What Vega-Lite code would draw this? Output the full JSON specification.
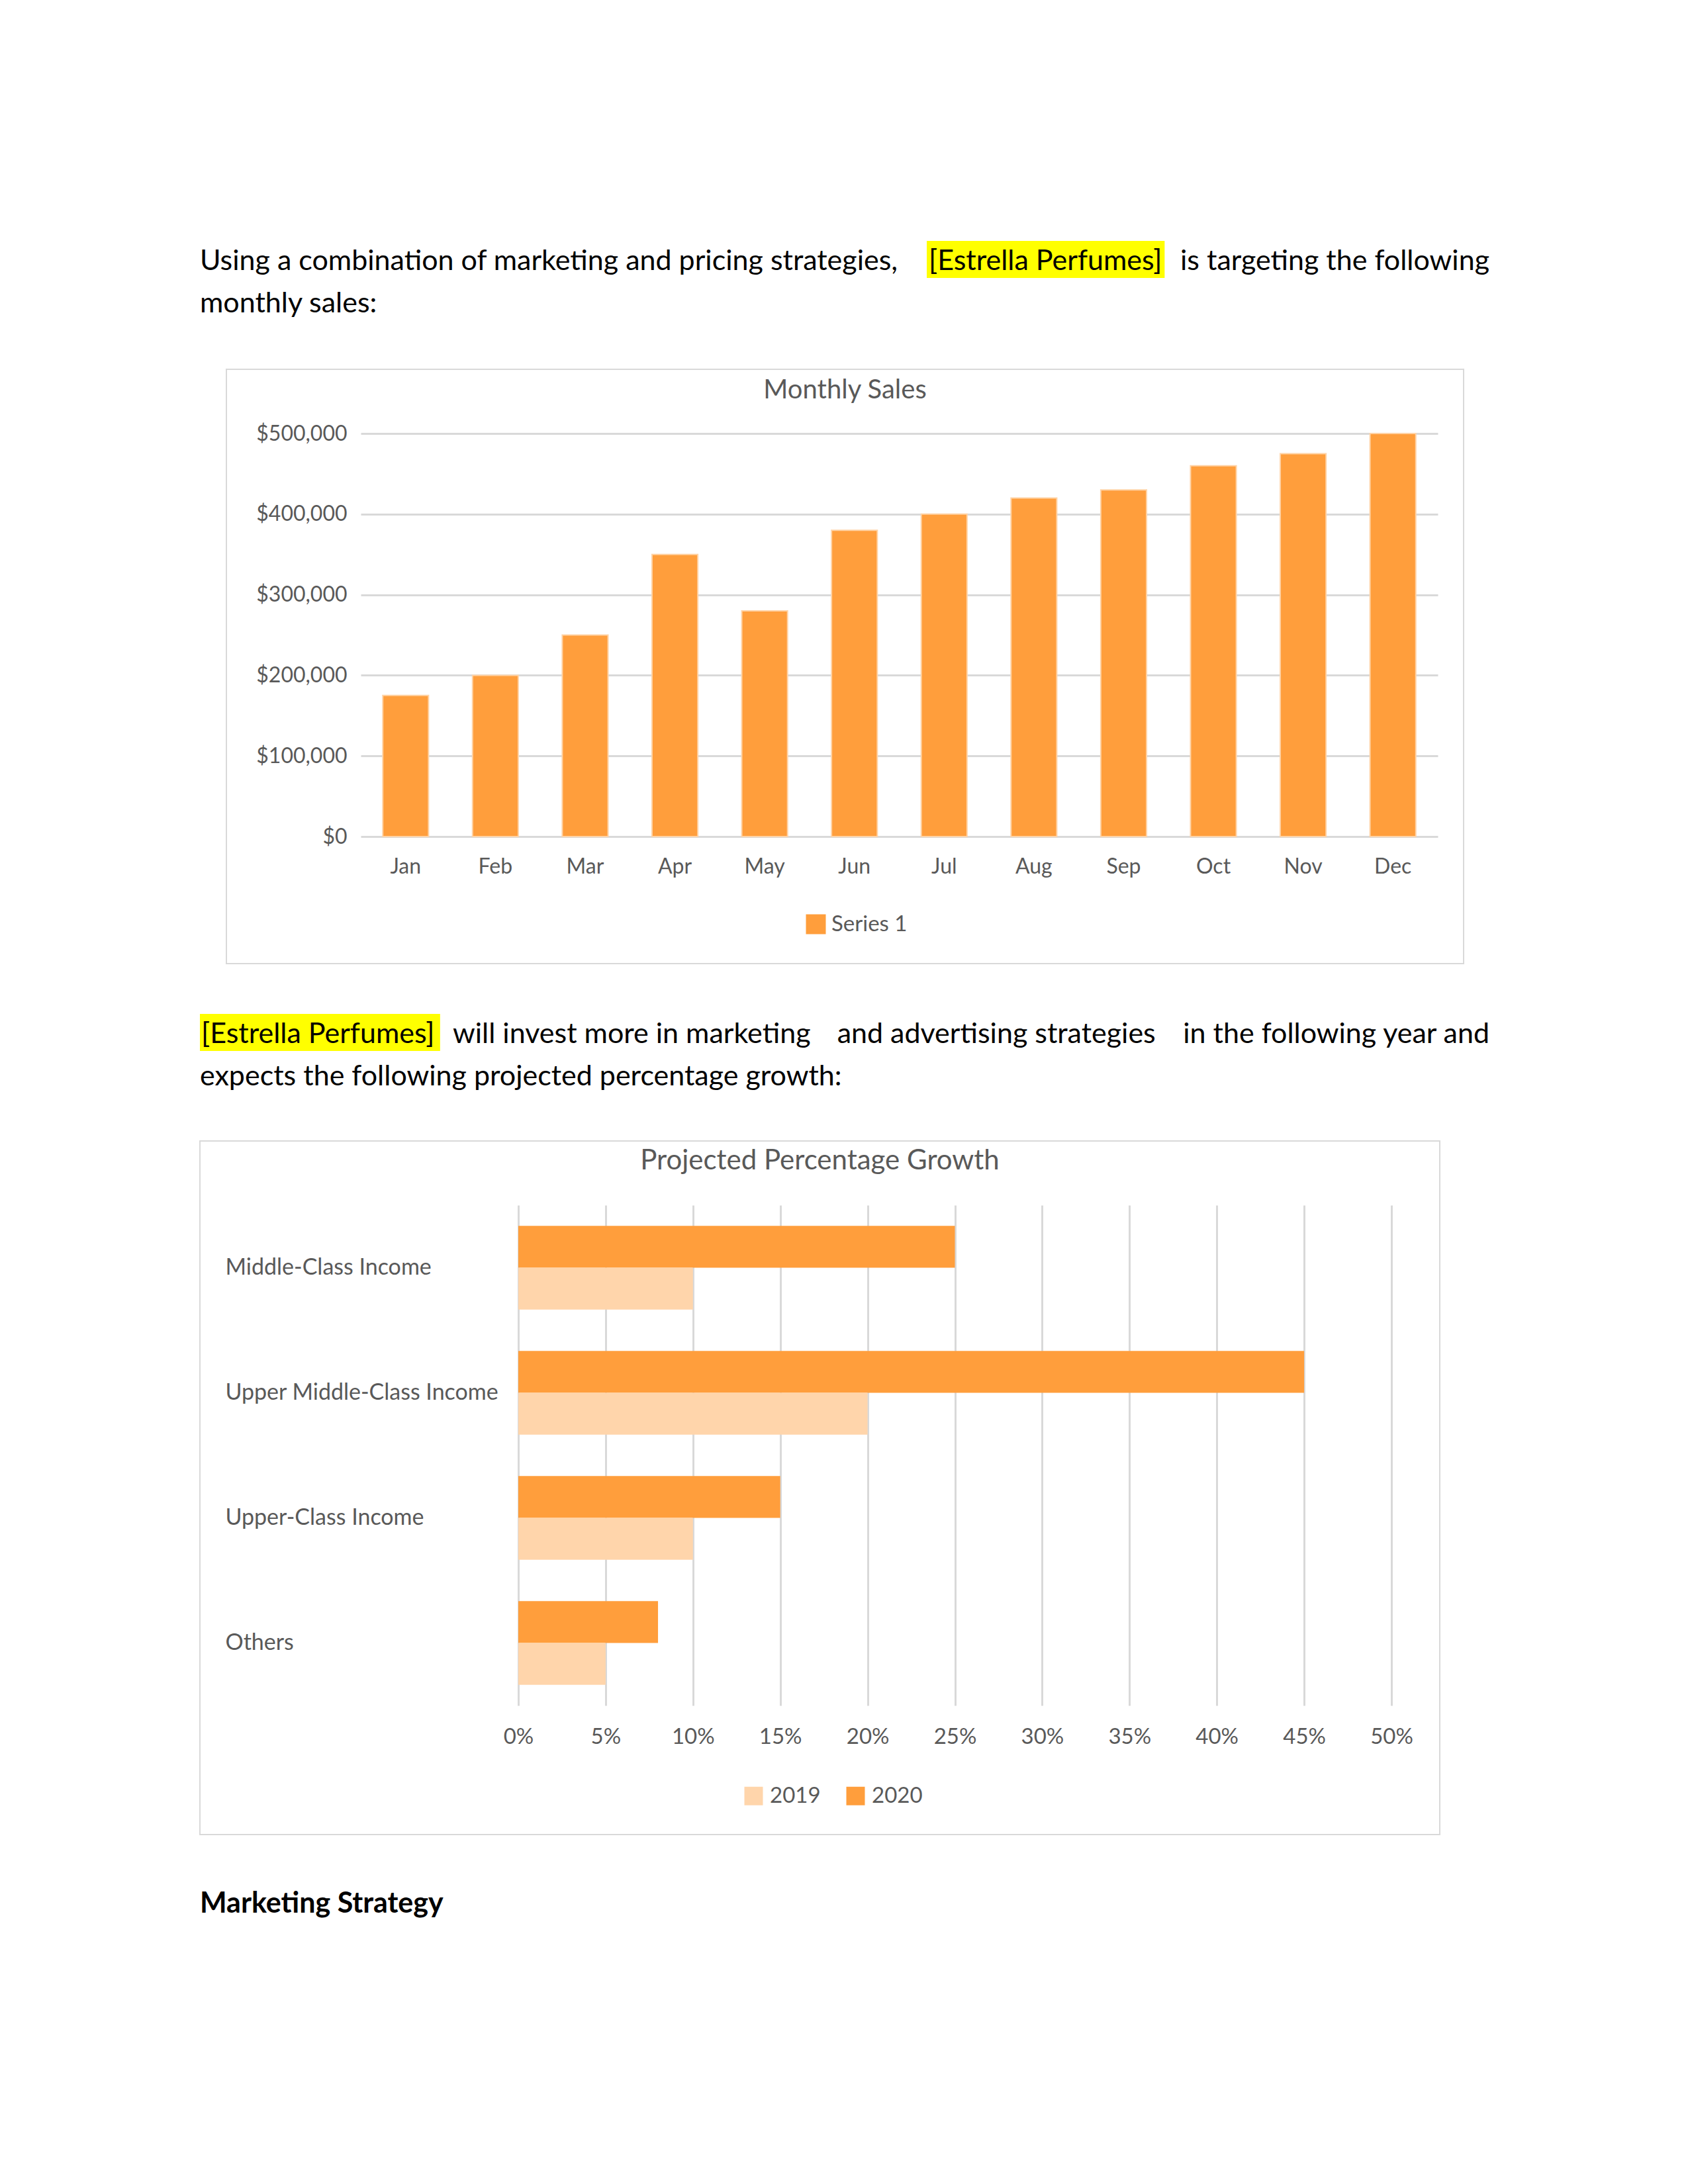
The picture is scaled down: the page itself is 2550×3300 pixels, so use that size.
{
  "$schema": "https://vega.github.io/schema/vega-lite/v6.json",
  "background": "white",
  "padding": {"left": 301, "top": 300, "right": 0, "bottom": 0},
  "spacing": 0,
  "config": {
    "view": {"stroke": null},
    "font": "Lato",
    "axis": {"labelFont": "Lato", "labelColor": "#595959", "domain": false, "ticks": false, "tickSize": 0, "labelLimit": 0, "labelFlush": false, "labelOverlap": false},
    "legend": {"labelFont": "Lato", "labelColor": "#595959", "padding": 0, "symbolStrokeWidth": 0},
    "title": {"font": "Lato", "fontWeight": "normal", "color": "#595959"}
  },
  "resolve": {"scale": {"x": "independent", "y": "independent", "color": "independent", "yOffset": "independent"}},
  "vconcat": [
    {
      "width": 1948,
      "height": 257,
      "data": {"values": [
        {"line": 1, "role": "left", "text": "Using a combination of marketing and pricing strategies,", "at": 0},
        {"line": 1, "role": "highlight", "text": "[Estrella Perfumes]", "from": 57, "to": 76},
        {"line": 1, "role": "right", "text": "is targeting the following", "at": 103},
        {"line": 2, "role": "left", "text": "monthly sales:", "at": 0}
      ]},
      "encoding": {"y": {"field": "line", "type": "ordinal", "scale": {"range": [76, 204], "paddingInner": 0.125, "paddingOuter": 0.0625}, "axis": null}},
      "layer": [
        {"transform": [{"filter": "datum.role === 'highlight'"}],
         "mark": {"type": "rect", "color": "#FFFF00", "xOffset": 20, "x2Offset": 20, "yOffset": -16, "y2Offset": -16},
         "encoding": {"x": {"field": "from", "type": "quantitative", "scale": {"domain": [0, 103], "nice": false, "zero": false}, "axis": null}, "x2": {"field": "to"}}},
        {"transform": [{"filter": "datum.role === 'highlight'"}],
         "mark": {"type": "text", "align": "left", "baseline": "alphabetic", "fontSize": 43, "font": "Lato", "color": "#000000", "dx": 23},
         "encoding": {"x": {"field": "from", "type": "quantitative", "axis": null}, "text": {"field": "text"}}},
        {"transform": [{"filter": "datum.role === 'left'"}],
         "mark": {"type": "text", "align": "left", "baseline": "alphabetic", "fontSize": 43, "font": "Lato", "color": "#000000"},
         "encoding": {"x": {"field": "at", "type": "quantitative", "axis": null}, "text": {"field": "text"}}},
        {"transform": [{"filter": "datum.role === 'right'"}],
         "mark": {"type": "text", "align": "right", "baseline": "alphabetic", "fontSize": 43, "font": "Lato", "color": "#000000"},
         "encoding": {"x": {"field": "at", "type": "quantitative", "axis": null}, "text": {"field": "text"}}}
      ]
    },
    {
      "spacing": 38,
      "resolve": {"scale": {"x": "independent", "y": "independent", "color": "independent"}},
      "hconcat": [
        {
          "width": 1,
          "height": 1,
          "data": {"values": []},
          "mark": {"type": "text", "text": ""},
          "encoding": {}
        },
        {
          "width": 1869,
          "height": 898,
          "view": {"stroke": "#D9D9D9", "strokeWidth": 2},
          "title": {"text": "Monthly Sales", "fontSize": 40, "anchor": "middle", "offset": -52},
          "data": {"values": [
            {"month": "Jan", "sales": 175000, "series": "Series 1"},
            {"month": "Feb", "sales": 200000, "series": "Series 1"},
            {"month": "Mar", "sales": 250000, "series": "Series 1"},
            {"month": "Apr", "sales": 350000, "series": "Series 1"},
            {"month": "May", "sales": 280000, "series": "Series 1"},
            {"month": "Jun", "sales": 380000, "series": "Series 1"},
            {"month": "Jul", "sales": 400000, "series": "Series 1"},
            {"month": "Aug", "sales": 420000, "series": "Series 1"},
            {"month": "Sep", "sales": 430000, "series": "Series 1"},
            {"month": "Oct", "sales": 460000, "series": "Series 1"},
            {"month": "Nov", "sales": 475000, "series": "Series 1"},
            {"month": "Dec", "sales": 500000, "series": "Series 1"}
          ]},
          "mark": {"type": "bar", "stroke": "#FFD3A6", "strokeWidth": 2},
          "encoding": {
            "x": {"field": "month", "type": "ordinal", "sort": null,
                  "scale": {"range": [203, 1830], "paddingInner": 0.49, "paddingOuter": 0.245},
                  "axis": {"orient": "bottom", "offset": -192, "labelPadding": 30, "labelAngle": 0, "labelFontSize": 32, "title": null}},
            "y": {"field": "sales", "type": "quantitative",
                  "scale": {"domain": [0, 500000], "range": [706, 97], "nice": false},
                  "axis": {"orient": "left", "offset": -182, "labelPadding": 0, "values": [0, 100000, 200000, 300000, 400000, 500000], "format": "$,.0f", "labelFontSize": 32, "grid": true, "gridColor": "#D9D9D9", "gridWidth": 3, "title": null}},
            "color": {"field": "series", "type": "nominal", "scale": {"range": ["#FF9E3C"]},
                      "legend": {"orient": "none", "legendX": 874, "legendY": 822, "title": null, "symbolType": "square", "symbolSize": 900, "labelFontSize": 33, "labelOffset": 7}}
          }
        }
      ]
    },
    {
      "width": 1948,
      "height": 266,
      "data": {"values": [
        {"line": 1, "role": "highlight", "text": "[Estrella Perfumes]", "from": 0, "to": 19},
        {"line": 1, "role": "left", "text": "will invest more in marketing", "at": 20},
        {"line": 1, "role": "center", "text": "and advertising strategies", "at": 63},
        {"line": 1, "role": "right", "text": "in the following year and", "at": 102},
        {"line": 2, "role": "left", "text": "expects the following projected percentage growth:", "at": 0}
      ]},
      "encoding": {"y": {"field": "line", "type": "ordinal", "scale": {"range": [87, 215], "paddingInner": 0.125, "paddingOuter": 0.0625}, "axis": null}},
      "layer": [
        {"transform": [{"filter": "datum.role === 'highlight'"}],
         "mark": {"type": "rect", "color": "#FFFF00", "yOffset": -16, "y2Offset": -16},
         "encoding": {"x": {"field": "from", "type": "quantitative", "scale": {"domain": [0, 102], "nice": false, "zero": false}, "axis": null}, "x2": {"field": "to"}}},
        {"transform": [{"filter": "datum.role === 'highlight'"}],
         "mark": {"type": "text", "align": "left", "baseline": "alphabetic", "fontSize": 43, "font": "Lato", "color": "#000000", "dx": 2},
         "encoding": {"x": {"field": "from", "type": "quantitative", "axis": null}, "text": {"field": "text"}}},
        {"transform": [{"filter": "datum.role === 'left'"}],
         "mark": {"type": "text", "align": "left", "baseline": "alphabetic", "fontSize": 43, "font": "Lato", "color": "#000000"},
         "encoding": {"x": {"field": "at", "type": "quantitative", "axis": null}, "text": {"field": "text"}}},
        {"transform": [{"filter": "datum.role === 'center'"}],
         "mark": {"type": "text", "align": "center", "baseline": "alphabetic", "fontSize": 43, "font": "Lato", "color": "#000000"},
         "encoding": {"x": {"field": "at", "type": "quantitative", "axis": null}, "text": {"field": "text"}}},
        {"transform": [{"filter": "datum.role === 'right'"}],
         "mark": {"type": "text", "align": "right", "baseline": "alphabetic", "fontSize": 43, "font": "Lato", "color": "#000000"},
         "encoding": {"x": {"field": "at", "type": "quantitative", "axis": null}, "text": {"field": "text"}}}
      ]
    },
    {
      "width": 1873,
      "height": 1048,
      "view": {"stroke": "#D9D9D9", "strokeWidth": 2},
      "title": {"text": "Projected Percentage Growth", "fontSize": 42, "anchor": "middle", "offset": -52},
      "data": {"values": [
        {"segment": "Middle-Class Income", "year": "2020", "growth": 0.25},
        {"segment": "Middle-Class Income", "year": "2019", "growth": 0.10},
        {"segment": "Upper Middle-Class Income", "year": "2020", "growth": 0.45},
        {"segment": "Upper Middle-Class Income", "year": "2019", "growth": 0.20},
        {"segment": "Upper-Class Income", "year": "2020", "growth": 0.15},
        {"segment": "Upper-Class Income", "year": "2019", "growth": 0.10},
        {"segment": "Others", "year": "2020", "growth": 0.08},
        {"segment": "Others", "year": "2019", "growth": 0.05}
      ]},
      "mark": {"type": "bar"},
      "encoding": {
        "y": {"field": "segment", "type": "nominal",
              "sort": ["Middle-Class Income", "Upper Middle-Class Income", "Upper-Class Income", "Others"],
              "scale": {"range": [97, 853], "paddingInner": 0.33, "paddingOuter": 0.165},
              "axis": {"orient": "left", "offset": -38, "labelPadding": 0, "labelAlign": "left", "labelFontSize": 34, "title": null}},
        "yOffset": {"field": "year", "type": "nominal", "scale": {"domain": ["2020", "2019"], "paddingInner": 0, "paddingOuter": 0}},
        "x": {"field": "growth", "type": "quantitative",
              "scale": {"domain": [0, 0.5], "range": [481, 1800], "nice": false},
              "axis": {"orient": "top", "offset": -853, "labelPadding": -31, "labelBaseline": "top", "values": [0, 0.05, 0.1, 0.15, 0.2, 0.25, 0.3, 0.35, 0.4, 0.45, 0.5], "format": ".0%", "labelFontSize": 33, "grid": true, "gridColor": "#D9D9D9", "gridWidth": 3, "title": null}},
        "color": {"field": "year", "type": "nominal", "scale": {"domain": ["2019", "2020"], "range": ["#FFD5AB", "#FF9E3C"]},
                  "legend": {"orient": "none", "legendX": 820, "legendY": 973, "direction": "horizontal", "title": null, "symbolType": "square", "symbolSize": 784, "labelFontSize": 33, "labelOffset": 8, "columnPadding": 36}}
      }
    },
    {
      "width": 1948,
      "height": 178,
      "data": {"values": [
        {"line": 1, "text": "Marketing Strategy", "at": 0}
      ]},
      "mark": {"type": "text", "align": "left", "baseline": "alphabetic", "fontSize": 43, "font": "Lato", "fontWeight": "bold", "color": "#000000"},
      "encoding": {
        "x": {"field": "at", "type": "quantitative", "scale": {"domain": [0, 100], "nice": false}, "axis": null},
        "y": {"field": "line", "type": "ordinal", "scale": {"range": [85, 149]}, "axis": null},
        "text": {"field": "text"}
      }
    }
  ]
}
